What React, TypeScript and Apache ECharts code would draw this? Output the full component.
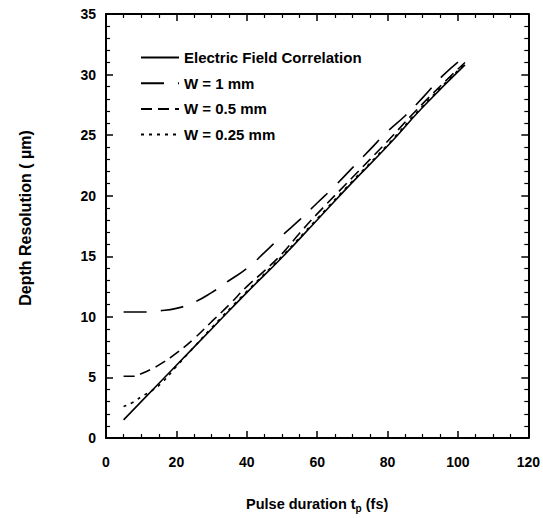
import React, { useEffect, useRef } from "react";
import * as echarts from "echarts";

const xTicks = [0, 20, 40, 60, 80, 100, 120];
const yTicks = [0, 5, 10, 15, 20, 25, 30, 35];

const efcX = [5, 10, 20, 30, 40, 50, 60, 70, 80, 90, 102];
const efcY = [1.5, 3.0, 6.0, 9.0, 12.0, 14.9, 18.0, 21.1, 24.1, 27.3, 30.8];

const w1X = [5, 10, 15, 20, 25, 30, 35, 40, 45, 50, 55, 60, 65, 70, 75, 80, 85, 90, 96, 102];
const w1Y = [10.4, 10.4, 10.5, 10.7, 11.2, 12.0, 13.0, 14.0, 15.3, 16.7, 18.0, 19.4, 20.8, 22.3, 23.8, 25.3, 26.6, 28.1, 30.0, 31.5];

const w05X = [5, 8, 10, 13, 16, 20, 25, 30, 35, 40, 45, 50, 55, 60, 70, 80, 90, 102];
const w05Y = [5.1, 5.1, 5.3, 5.7, 6.2, 7.0, 8.2, 9.6, 11.0, 12.5, 13.8, 15.2, 16.9, 18.5, 21.5, 24.5, 27.6, 31.0];

const w025X = [5, 8, 10, 13, 16, 20, 25, 30, 40, 50, 60, 70, 80, 90, 102];
const w025Y = [2.6, 3.0, 3.4, 3.9, 4.6, 5.9, 7.5, 9.1, 12.1, 15.0, 18.1, 21.2, 24.2, 27.4, 30.9];

const seriesNames = ["Electric Field Correlation", "W = 1 mm", "W = 0.5 mm", "W = 0.25 mm"];

const zip = (xs: number[], ys: number[]) => xs.map((x, i) => [x, ys[i]]);

export default function App() {
  const ref = useRef<HTMLDivElement>(null);
  useEffect(() => {
    if (!ref.current) return;
    const chart = echarts.init(ref.current, undefined, { renderer: "svg" });
    const font = "'Liberation Sans', Arial, Helvetica, sans-serif";
    const axisCommon = {
      type: "value" as const,
      axisLine: { show: true, onZero: false, lineStyle: { color: "#000", width: 2 } },
      axisTick: { show: true, inside: true, length: 7, lineStyle: { color: "#000", width: 1.5 } },
      minorTick: { show: true, splitNumber: 0, length: 4, lineStyle: { color: "#000", width: 1.2 } },
      splitLine: { show: false },
    };
    const lineBase = (name: string, data: number[][], dash: any) => ({
      name,
      type: "line" as const,
      data,
      symbol: "none",
      smooth: true,
      lineStyle: { color: "#000", width: 1.6, type: dash },
      itemStyle: { color: "#000" },
    });
    chart.setOption({
      animation: false,
      backgroundColor: "#fff",
      textStyle: { fontFamily: font },
      grid: { left: 106, right: 13, top: 14, bottom: 80 },
      legend: {
        data: seriesNames,
        orient: "vertical",
        left: 135,
        top: 45,
        itemWidth: 38,
        itemHeight: 14,
        itemGap: 10.7,
        itemStyle: { color: "rgba(0,0,0,0)", borderWidth: 0, opacity: 0 },
        textStyle: { fontFamily: font, fontSize: 15, fontWeight: "bold", color: "#000" },
      },
      xAxis: [
        {
          ...axisCommon,
          min: xTicks[0],
          max: xTicks[xTicks.length - 1],
          interval: 20,
          minorTick: { ...axisCommon.minorTick, splitNumber: 4 },
          position: "bottom",
          axisLabel: { margin: 17, color: "#000", fontSize: 14, fontWeight: "bold", fontFamily: font },
          name: "Pulse duration t{sub|p} (fs)",
          nameLocation: "middle",
          nameGap: 56,
          nameTextStyle: {
            color: "#000",
            fontSize: 14.5,
            fontWeight: "bold",
            fontFamily: font,
            rich: {
              sub: { fontSize: 10, fontWeight: "bold", fontFamily: font, color: "#000", padding: [9, 0, 0, 0] },
            },
          },
        },
        {
          ...axisCommon,
          min: xTicks[0],
          max: xTicks[xTicks.length - 1],
          interval: 20,
          minorTick: { ...axisCommon.minorTick, splitNumber: 4 },
          position: "top",
          axisLabel: { show: false },
        },
      ],
      yAxis: [
        {
          ...axisCommon,
          min: yTicks[0],
          max: yTicks[yTicks.length - 1],
          interval: 5,
          minorTick: { ...axisCommon.minorTick, splitNumber: 5 },
          position: "left",
          axisLabel: { margin: 10, color: "#000", fontSize: 14, fontWeight: "bold", fontFamily: font },
          name: "Depth Resolution ( µm)",
          nameLocation: "middle",
          nameGap: 73,
          nameTextStyle: { color: "#000", fontSize: 16, fontWeight: "bold", fontFamily: font, padding: [0, 0, 0, 16] },
        },
        {
          ...axisCommon,
          min: yTicks[0],
          max: yTicks[yTicks.length - 1],
          interval: 5,
          minorTick: { ...axisCommon.minorTick, splitNumber: 5 },
          position: "right",
          axisLabel: { show: false },
        },
      ],
      series: [
        lineBase(seriesNames[0], zip(efcX, efcY), "solid"),
        lineBase(seriesNames[1], zip(w1X, w1Y), [23, 14]),
        lineBase(seriesNames[2], zip(w05X, w05Y), [11, 6]),
        lineBase(seriesNames[3], zip(w025X, w025Y), [3, 5]),
      ],
    });
    return () => chart.dispose();
  }, []);
  return (
    <div
      ref={ref}
      style={{ position: "fixed", left: 0, top: 0, width: 543, height: 518, background: "#fff" }}
    />
  );
}
